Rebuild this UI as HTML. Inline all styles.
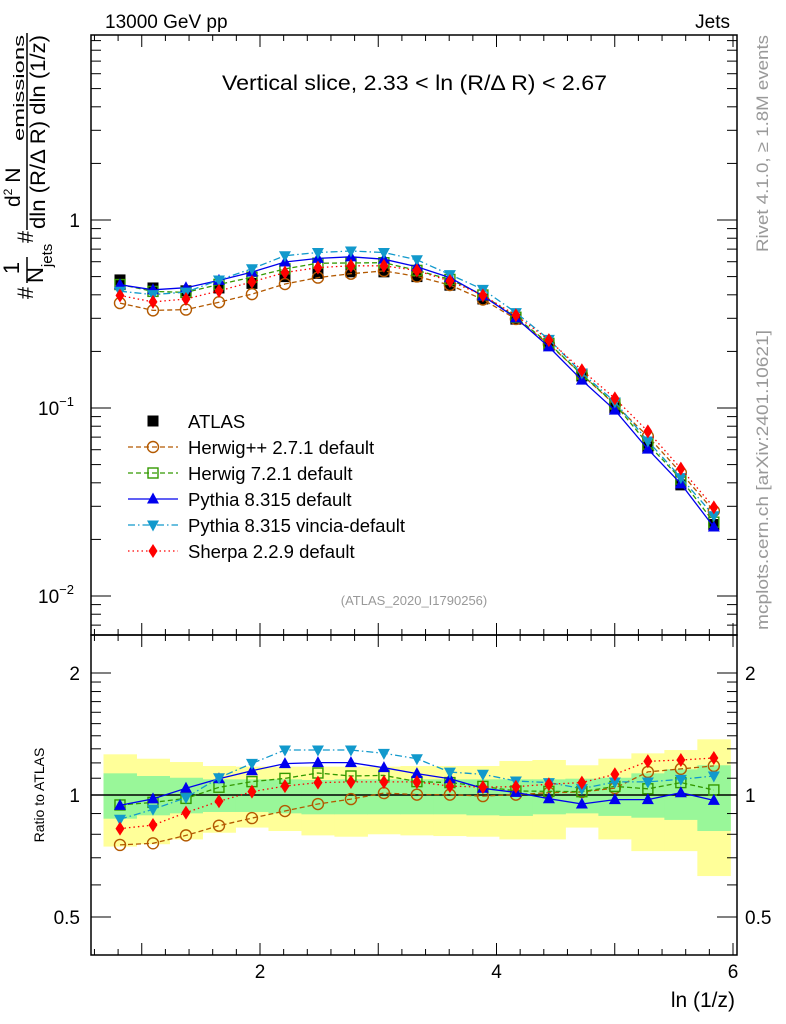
<!DOCTYPE html>
<html><head><meta charset="utf-8"><style>
body{margin:0;background:#fff}
svg{display:block;font-family:"Liberation Sans",sans-serif}
</style></head><body>
<svg id="c" width="786" height="1024" viewBox="0 0 786 1024">
<g id="bands"></g>
<g id="main"></g>
<g id="ratio"></g>
<g id="axes"></g>
<text x="105" y="28" font-size="19">13000 GeV pp</text>
<text x="730" y="28" font-size="19" text-anchor="end">Jets</text>
<text x="222" y="90" font-size="21" textLength="385" lengthAdjust="spacingAndGlyphs">Vertical slice, 2.33 &lt; ln (R/Δ R) &lt; 2.67</text>
<text x="414" y="605" font-size="13" fill="#999" text-anchor="middle">(ATLAS_2020_I1790256)</text>
<text transform="translate(768,252) rotate(-90)" font-size="17" fill="#999" textLength="217" lengthAdjust="spacingAndGlyphs">Rivet 4.1.0, ≥ 1.8M events</text>
<text transform="translate(768,630) rotate(-90)" font-size="17" fill="#999" textLength="300" lengthAdjust="spacingAndGlyphs">mcplots.cern.ch [arXiv:2401.10621]</text>
<text transform="translate(44,795) rotate(-90)" font-size="14" text-anchor="middle">Ratio to ATLAS</text>
<text x="735" y="1007" font-size="21" text-anchor="end">ln (1/z)</text>
<g transform="rotate(-90)" font-size="20">
<text x="-293" y="33" text-anchor="middle" font-size="22">#</text>
<text x="-268" y="19" text-anchor="middle" font-size="22">1</text>
<text x="-283" y="43" font-size="22">N<tspan font-size="15" dy="9">jets</tspan></text>
<text x="-237" y="33" text-anchor="middle" font-size="22">#</text>
<text x="-207" y="20" font-size="21">d<tspan font-size="12" dy="-8">2</tspan><tspan dy="8"> N</tspan></text>
<text x="-141" y="24" font-size="15" textLength="106" lengthAdjust="spacingAndGlyphs">emissions</text>
<text x="-229" y="45" font-size="21" textLength="194" lengthAdjust="spacingAndGlyphs">dln (R/Δ R) dln (1/z)</text>
</g>
<line x1="27" y1="257" x2="27" y2="283" stroke="#000" stroke-width="1.5"/>
<line x1="27" y1="230" x2="27" y2="33" stroke="#000" stroke-width="1.5"/>
<g id="legend"></g>
</svg>
<script>
const xs = [0.816,1.095,1.374,1.653,1.932,2.211,2.49,2.769,3.048,3.327,3.606,3.885,4.164,4.443,4.722,5.001,5.28,5.559,5.838];
const binHalf = 0.1395;
const atlas = [0.48,0.435,0.42,0.435,0.46,0.50,0.52,0.53,0.53,0.50,0.45,0.38,0.297,0.216,0.148,0.100,0.062,0.039,0.024];
const rHerwigpp = [0.753,0.760,0.795,0.840,0.877,0.913,0.950,0.977,1.011,1.002,1.002,0.994,1.002,1.013,1.017,1.04,1.14,1.16,1.18];
const rHerwig7 = [0.945,0.959,0.981,1.045,1.079,1.099,1.133,1.114,1.118,1.079,1.073,1.05,1.023,1.021,1.019,1.05,1.036,1.073,1.029];
const rPythia = [0.943,0.978,1.039,1.097,1.148,1.195,1.202,1.202,1.168,1.129,1.097,1.039,1.015,0.979,0.950,0.974,0.974,1.013,0.970];
const rVincia = [0.871,0.922,0.985,1.103,1.197,1.291,1.291,1.291,1.267,1.229,1.139,1.125,1.083,1.073,1.037,1.077,1.077,1.093,1.114];
const rSherpa = [0.826,0.843,0.905,0.965,1.019,1.052,1.073,1.077,1.077,1.077,1.052,1.046,1.048,1.063,1.073,1.125,1.211,1.22,1.234];
const greenHi = [1.131,1.114,1.103,1.093,1.093,1.093,1.089,1.093,1.093,1.093,1.093,1.093,1.093,1.093,1.097,1.103,1.131,1.157,1.184];
const greenLo = [0.874,0.891,0.901,0.908,0.908,0.901,0.896,0.896,0.896,0.896,0.896,0.891,0.888,0.896,0.901,0.888,0.879,0.868,0.815];
const yellowHi = [1.260,1.229,1.206,1.179,1.175,1.175,1.175,1.175,1.175,1.179,1.179,1.179,1.213,1.220,1.184,1.229,1.267,1.291,1.372];
const yellowLo = [0.746,0.756,0.777,0.807,0.831,0.815,0.795,0.789,0.800,0.795,0.792,0.789,0.777,0.777,0.831,0.777,0.727,0.727,0.631];
const yMainTicks = ["1","10","10"];

const NS="http://www.w3.org/2000/svg";
const X = v => 23.5 + v*118.25;
const YM = v => 220 - Math.log10(v)*188;
const YR = v => 795 - Math.log2(v)*122;
function mk(tag, attrs, parent){const e=document.createElementNS(NS,tag);for(const k in attrs)e.setAttribute(k,attrs[k]);parent.appendChild(e);return e;}
const gB=document.getElementById('bands'), gM=document.getElementById('main'), gR=document.getElementById('ratio'), gA=document.getElementById('axes'), gL=document.getElementById('legend');

xs.forEach((x,i)=>{
  let r=mk('rect',{x:X(x-binHalf),y:YR(yellowHi[i]),width:X(x+binHalf)-X(x-binHalf)+0.5,height:YR(yellowLo[i])-YR(yellowHi[i]),fill:'#ffff99'},gB);
  
  
});
xs.forEach((x,i)=>{
  let r=mk('rect',{x:X(x-binHalf),y:YR(greenHi[i]),width:X(x+binHalf)-X(x-binHalf)+0.5,height:YR(greenLo[i])-YR(greenHi[i]),fill:'#99f799'},gB);
  
  
});
let one=mk('line',{x1:91,x2:737,y1:YR(1),y2:YR(1),stroke:'#000','stroke-width':1.5},gB);



function marker(g,type,cx,cy,col){
  let e;
  if(type==='sq') e=mk('rect',{x:cx-5.5,y:cy-5.5,width:11,height:11,fill:'#000'},g);
  else if(type==='circ') e=mk('circle',{cx,cy,r:5.5,fill:'none',stroke:col,'stroke-width':1.4},g);
  else if(type==='osq') e=mk('rect',{x:cx-5,y:cy-5,width:10,height:10,fill:'none',stroke:col,'stroke-width':1.4},g);
  else if(type==='up') e=mk('polygon',{points:`${cx},${cy-6.5} ${cx-6},${cy+4.5} ${cx+6},${cy+4.5}`,fill:col},g);
  else if(type==='down') e=mk('polygon',{points:`${cx},${cy+6.5} ${cx-6},${cy-4.5} ${cx+6},${cy-4.5}`,fill:col},g);
  else if(type==='dia') e=mk('polygon',{points:`${cx},${cy-7} ${cx-4.5},${cy} ${cx},${cy+7} ${cx+4.5},${cy}`,fill:col},g);
  
  
}
const series=[
 {name:'herwigpp',r:rHerwigpp,col:'#b35900',dash:'5,3',m:'circ',label:'Herwig++ 2.7.1 default'},
 {name:'herwig7',r:rHerwig7,col:'#339900',dash:'5,3',m:'osq',label:'Herwig 7.2.1 default'},
 {name:'pythia',r:rPythia,col:'#0000ee',dash:'',m:'up',label:'Pythia 8.315 default'},
 {name:'vincia',r:rVincia,col:'#1199cc',dash:'7,3,1.5,3',m:'down',label:'Pythia 8.315 vincia-default'},
 {name:'sherpa',r:rSherpa,col:'#ff0000',dash:'1.5,3',m:'dia',label:'Sherpa 2.2.9 default'}
];
xs.forEach((x,i)=>marker(gM,'sq',X(x),YM(atlas[i]),'#000'));
series.forEach(s=>{
  const gm=mk('g',{},gM);
  
  
  const pm=xs.map((x,i)=>`${X(x).toFixed(1)},${YM(atlas[i]*s.r[i]).toFixed(1)}`).join(' ');
  mk('polyline',{points:pm,fill:'none',stroke:s.col,'stroke-width':1.3,'stroke-dasharray':s.dash},gm);
  xs.forEach((x,i)=>marker(gm,s.m,X(x),YM(atlas[i]*s.r[i]),s.col));
  const gr=mk('g',{},gR);
  
  
  const pr=xs.map((x,i)=>`${X(x).toFixed(1)},${YR(s.r[i]).toFixed(1)}`).join(' ');
  mk('polyline',{points:pr,fill:'none',stroke:s.col,'stroke-width':1.3,'stroke-dasharray':s.dash},gr);
  xs.forEach((x,i)=>marker(gr,s.m,X(x),YR(s.r[i]),s.col));
});
[[35,635],[635,955]].forEach(([t,b])=>{
  let f=mk('rect',{x:91,y:t,width:646,height:b-t,fill:'none',stroke:'#000','stroke-width':1.5},gA);
  
  
});
for(let v=0.6;v<=6.05;v+=0.2){
  const px=X(v); if(px<92||px>736) continue;
  const major=Math.abs(v-Math.round(v))<0.01;
  const L=major?12:6;
  [[35,1],[635,-1],[635,1],[955,-1]].forEach(([y,d])=>mk('line',{x1:px,x2:px,y1:y,y2:y+d*L,stroke:'#000'},gA));
}
[2,4,6].forEach(v=>{let t=mk('text',{x:X(v),y:978,'font-size':19,'text-anchor':'middle'},gA);t.textContent=v;
 });
for(let d=-3;d<=0;d++)for(let k=1;k<10;k++){
  const v=k*Math.pow(10,d), py=YM(v); if(py<36||py>634) continue;
  const L=k===1?20:10;
  mk('line',{x1:91,x2:91+L,y1:py,y2:py,stroke:'#000'},gA);
  mk('line',{x1:737,x2:737-L,y1:py,y2:py,stroke:'#000'},gA);
}
[[1,'1',''],[0.1,'10','−1'],[0.01,'10','−2']].forEach(([v,b,e],i)=>{
  let t=mk('text',{x:e?74:80,y:YM(v)+7,'font-size':19,'text-anchor':'end'},gA);
  t.textContent=yMainTicks[i];
  if(e){let s=mk('tspan',{'font-size':13,dy:-9},t);s.textContent=e;}
  
});
[0.5,0.6,0.7,0.8,0.9,1,1.1,1.2,1.3,1.4,1.5,1.6,1.7,1.8,1.9,2].forEach(v=>{
  const py=YR(v); const L=(v===0.5||v===1||v===2)?20:10;
  mk('line',{x1:91,x2:91+L,y1:py,y2:py,stroke:'#000'},gA);
  mk('line',{x1:737,x2:737-L,y1:py,y2:py,stroke:'#000'},gA);
});
[[0.5,'0.5'],[1,'1'],[2,'2']].forEach(([v,s])=>{
  [[80,'end'],[745,'start']].forEach(([x,a])=>{
    let t=mk('text',{x,y:YR(v)+7,'font-size':19,'text-anchor':a},gA);t.textContent=s;
    
  });
});
const rows=[{m:'sq',col:'#000',dash:null,label:'ATLAS'}].concat(series);
rows.forEach((s,i)=>{
  const y=421+i*26;
  const g=mk('g',{},gL);
  
  
  if(s.dash!==null) mk('line',{x1:128,x2:178,y1:y,y2:y,stroke:s.col,'stroke-width':1.3,'stroke-dasharray':s.dash},g);
  marker(g,s.m,153,y,s.col);
  const t=mk('text',{x:188,y:y+7,'font-size':18.5},g);t.textContent=s.label;
});
</script>
</body></html>
